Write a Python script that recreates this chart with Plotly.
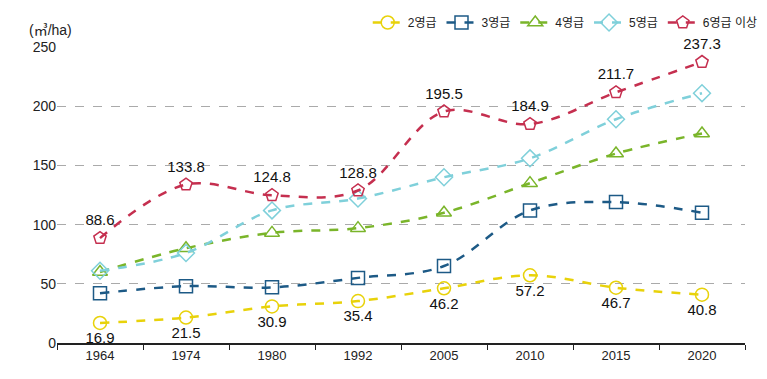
import plotly.graph_objects as go

years = ["1964", "1974", "1980", "1992", "2005", "2010", "2015", "2020"]
g2 = [16.9, 21.5, 30.9, 35.4, 46.2, 57.2, 46.7, 40.8]
g3 = [42, 48, 47, 55, 65, 112, 119, 110]
g4 = [60, 80, 93, 97, 110, 135, 160, 177]
g5 = [61, 76, 112, 122, 140, 156, 189, 211]
g6 = [88.6, 133.8, 124.8, 128.8, 195.5, 184.9, 211.7, 237.3]
names = ["2영급", "3영급", "4영급", "5영급", "6영급 이상"]

font = "Liberation Sans, Noto Sans CJK KR, sans-serif"
series = [
    (names[0], g2, "#e8d20a", "circle-open", "bottom center", True),
    (names[1], g3, "#1d5a86", "square-open", None, False),
    (names[2], g4, "#7ab52a", "triangle-up-open", None, False),
    (names[3], g5, "#7fd0da", "diamond-open", None, False),
    (names[4], g6, "#c52f4f", "pentagon-open", "top center", True),
]

fig = go.Figure()
for name, vals, col, sym, tpos, lab in series:
    fig.add_trace(go.Scatter(
        x=years, y=vals, name=name,
        mode="lines+markers+text" if lab else "lines+markers",
        text=[f"{v:.1f}" for v in vals] if lab else None,
        textposition=tpos,
        textfont=dict(family=font, size=15, color="#111111"),
        line=dict(color=col, width=2.5, dash="dash", shape="spline", smoothing=1),
        marker=dict(symbol=sym, size=13, color=col, line=dict(width=1.5, color=col)),
        cliponaxis=False,
    ))

fig.update_layout(
    width=767, height=379,
    margin=dict(l=49, r=30, t=39, b=44, autoexpand=False),
    paper_bgcolor="white", plot_bgcolor="white",
    font=dict(family=font, size=13, color="#222222"),
    showlegend=True,
    legend=dict(orientation="h", x=0.984, xanchor="right", y=1.0, yanchor="top",
                yref="container", xref="container", font=dict(size=12), itemwidth=30,
                borderwidth=0, bgcolor="rgba(0,0,0,0)"),
    xaxis=dict(type="category", range=[-0.5, 7.5], tickson="boundaries",
               ticks="outside", ticklen=5, tickcolor="#222222",
               showline=True, linecolor="#222222", linewidth=1.5,
               showgrid=False, tickfont=dict(size=13)),
    yaxis=dict(range=[0, 250], dtick=50, showgrid=True, gridcolor="#aaaaaa",
               griddash="dash", gridwidth=1, zeroline=False, showline=False,
               tickfont=dict(size=14), ticks=""),
    annotations=[dict(text="(㎥/ha)", xref="paper", yref="paper", x=-0.009, y=1.0,
                      yshift=17, xanchor="center", yanchor="middle", showarrow=False,
                      font=dict(size=14, family=font))],
)

fig.write_html("out.html")
